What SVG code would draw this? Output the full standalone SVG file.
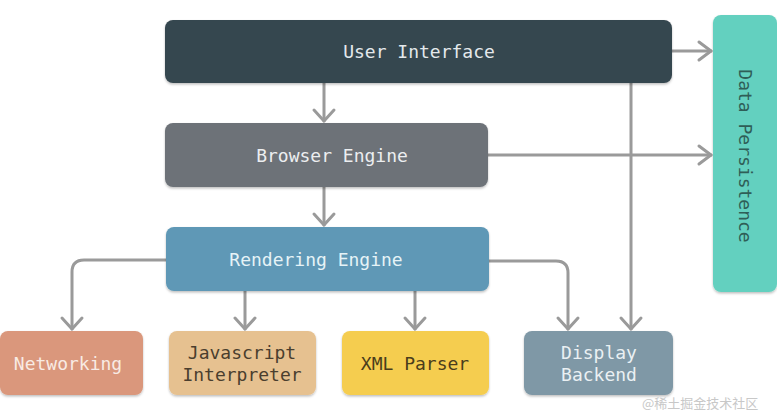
<svg xmlns="http://www.w3.org/2000/svg" width="777" height="411" viewBox="0 0 777 411">
<defs>
<style>
.box{stroke:none;filter:url(#sh)}
.t{font-family:"DejaVu Sans Mono","Liberation Mono",monospace;font-size:18px;text-anchor:middle;dominant-baseline:central}
</style>
<filter id="sh" x="-10%" y="-10%" width="120%" height="130%">
<feDropShadow dx="0" dy="1.5" stdDeviation="1.2" flood-color="#000" flood-opacity="0.25"/>
</filter>
</defs>
<rect width="777" height="411" fill="#ffffff"/>
<g id="connectors" fill="none" stroke="#9a9a9a" stroke-width="3" stroke-linecap="round" stroke-linejoin="round">
<path d="M324 83 V121"/><path d="M314 110 L324 121 L334 110"/>
<path d="M672 51 H711"/><path d="M699 42 L711 51 L699 60"/>
<path d="M488 155 H711"/><path d="M699 146 L711 155 L699 164"/>
<path d="M631 83 V329"/><path d="M621 318 L631 329 L641 318"/>
<path d="M324 187 V225"/><path d="M314 214 L324 225 L334 214"/>
<path d="M166 260 H84 Q72 260 72 272 V329"/><path d="M62 318 L72 329 L82 318"/>
<path d="M245 291 V329"/><path d="M235 318 L245 329 L255 318"/>
<path d="M415 291 V329"/><path d="M405 318 L415 329 L425 318"/>
<path d="M489 261 H556 Q568 261 568 273 V329"/><path d="M558 318 L568 329 L578 318"/>
</g>
<g id="user-interface"><rect class="box" x="165" y="20" width="507" height="63" rx="8" fill="#36474f"/><text class="t" x="419" y="51" fill="#e4e9ec">User Interface</text></g>
<g id="data-persistence"><rect class="box" x="713" y="15" width="64" height="277" rx="8" fill="#64d0bf"/><text class="t" transform="translate(745 156) rotate(90)" fill="#2f5e57">Data Persistence</text></g>
<g id="browser-engine"><rect class="box" x="165" y="123" width="323" height="64" rx="8" fill="#6d7278"/><text class="t" x="332" y="155" fill="#eceef0">Browser Engine</text></g>
<g id="rendering-engine"><rect class="box" x="166" y="227" width="323" height="64" rx="8" fill="#5e98b6"/><text class="t" x="316" y="259" fill="#e6f3f7">Rendering Engine</text></g>
<g id="networking"><rect class="box" x="0" y="331" width="143" height="64" rx="8" fill="#da977b"/><text class="t" x="68" y="363" fill="#f8ebe4">Networking</text></g>
<g id="javascript-interpreter"><rect class="box" x="169" y="331" width="147" height="64" rx="8" fill="#e6c190"/><text class="t" x="242" y="352" fill="#4a3e2e">Javascript</text><text class="t" x="242" y="374" fill="#4a3e2e">Interpreter</text></g>
<g id="xml-parser"><rect class="box" x="342" y="331" width="147" height="64" rx="8" fill="#f5cd4f"/><text class="t" x="415" y="363" fill="#4a3d1c">XML Parser</text></g>
<g id="display-backend"><rect class="box" x="524" y="331" width="149" height="64" rx="8" fill="#7f98a6"/><text class="t" x="599" y="352" fill="#eaf0f3">Display</text><text class="t" x="599" y="374" fill="#eaf0f3">Backend</text></g>
<text x="642" y="408" font-family="'Noto Sans CJK SC',sans-serif" font-size="13" fill="#c8c8c8">@稀土掘金技术社区</text>
</svg>
